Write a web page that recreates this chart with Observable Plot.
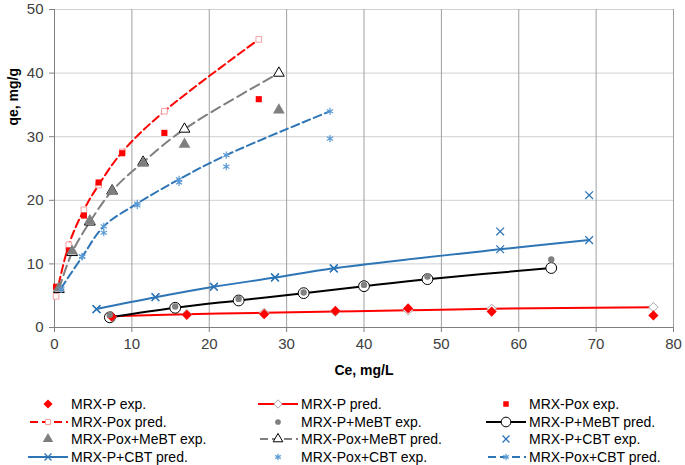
<!DOCTYPE html>
<html><head><meta charset="utf-8">
<script src="https://cdn.jsdelivr.net/npm/d3@7"></script>
<script src="https://cdn.jsdelivr.net/npm/@observablehq/plot@0.6"></script>
<style>
body{margin:0;background:#fff;font-family:"Liberation Sans",Arial,sans-serif;}
#wrap{position:relative;width:685px;height:465px;overflow:hidden;}
#chart{position:absolute;left:0;top:0;}
.lg{position:absolute;display:flex;align-items:center;font-size:14px;color:#000;white-space:nowrap;height:18px;}
.lg svg{margin-right:3px;}
</style></head><body><div id="wrap"><div id="chart"></div></div>
<script>
// ---- data ----
const xTicks = [0, 10, 20, 30, 40, 50, 60, 70, 80];
const yTicks = [0, 10, 20, 30, 40, 50];
const xLabel = "Ce, mg/L";
const yLabel = "qe, mg/g";

const mrxP_x      = [7.4, 17.1, 27.1, 36.3, 45.7, 56.5, 77.4];
const mrxP_exp    = [1.7, 2.0, 2.1, 2.6, 3.0, 2.5, 1.9];
const mrxP_pred   = [1.75, 2.1, 2.3, 2.5, 2.7, 2.95, 3.2];

const mrxPox_x    = [0.2, 1.85, 3.8, 5.7, 8.75, 14.2, 26.4];
const mrxPox_exp  = [6.4, 12.1, 17.6, 22.8, 27.4, 30.6, 35.9];
const mrxPox_pred = [4.9, 13.0, 18.5, 22.4, 27.6, 34.0, 45.3];

const pMeBT_x     = [7.15, 15.6, 23.8, 32.2, 40.0, 48.2, 64.2];
const pMeBT_exp   = [2.0, 3.3, 4.5, 5.5, 6.7, 8.0, 10.7];
const pMeBT_pred  = [1.6, 3.1, 4.25, 5.4, 6.5, 7.6, 9.35];

const poxMeBT_x    = [0.56, 2.28, 4.57, 7.45, 11.45, 16.8, 29.0];
const poxMeBT_exp  = [6.2, 12.0, 16.8, 21.4, 25.8, 28.8, 34.2];
const poxMeBT_pred = [6.0, 11.8, 16.6, 21.5, 26.0, 31.2, 40.0];

const pCBT_x      = [5.43, 13.05, 20.6, 28.5, 36.1, 57.6, 69.1];
const pCBT_exp    = [2.9, 4.8, 6.4, 7.9, 9.3, 15.1, 20.8];
const pCBT_pred   = [2.9, 4.75, 6.4, 7.85, 9.3, 12.3, 13.75];

const poxCBT_x    = [0.86, 3.57, 6.37, 10.7, 16.1, 22.2, 35.6];
const poxCBT_exp  = [6.0, 11.2, 14.9, 19.2, 22.8, 25.3, 29.7];
const poxCBT_pred = [6.2, 11.1, 15.9, 19.5, 23.3, 27.1, 34.0];

const seriesNames = [
  "MRX-P exp.", "MRX-P pred.", "MRX-Pox exp.", "MRX-Pox pred.",
  "MRX-P+MeBT exp.", "MRX-P+MeBT pred.", "MRX-Pox+MeBT exp.", "MRX-Pox+MeBT pred.",
  "MRX-P+CBT exp.", "MRX-P+CBT pred.", "MRX-Pox+CBT exp.", "MRX-Pox+CBT pred."
];
const seriesData = [
  [mrxP_x, mrxP_exp], [mrxP_x, mrxP_pred],
  [mrxPox_x, mrxPox_exp], [mrxPox_x, mrxPox_pred],
  [pMeBT_x, pMeBT_exp], [pMeBT_x, pMeBT_pred],
  [poxMeBT_x, poxMeBT_exp], [poxMeBT_x, poxMeBT_pred],
  [pCBT_x, pCBT_exp], [pCBT_x, pCBT_pred],
  [poxCBT_x, poxCBT_exp], [poxCBT_x, poxCBT_pred]
];

// ---- styles ----
const RED = "#ff0000", GRAY = "#7f7f7f", BLUE = "#2e75b6", LBLUE = "#5b9bd5";
const styles = [
  {symbol: "diamond2", fill: RED, stroke: "none", r: 4.6},
  {line: RED, dash: null, symbol: "diamond2", fill: "white", stroke: "#a6a6a6", r: 4.2},
  {symbol: "square2", fill: RED, stroke: "none", r: 3.9},
  {line: RED, dash: "8,4", symbol: "square2", fill: "white", stroke: "#f4a0a0", r: 3.6},
  {symbol: "circle", fill: "#808080", stroke: "none", r: 3.2},
  {line: "#000", dash: null, symbol: "circle", fill: "white", stroke: "#000", r: 5.4},
  {symbol: "triangle2", fill: GRAY, stroke: "none", r: 5.6},
  {line: GRAY, dash: "10,5", symbol: "triangle", fill: "white", stroke: "#000", r: 4.0},
  {symbol: "times", fill: "none", stroke: BLUE, r: 3.6, sw: 1.3},
  {line: BLUE, dash: null, symbol: "times", fill: "none", stroke: BLUE, r: 3.6, sw: 1.3},
  {symbol: "asterisk", fill: "none", stroke: LBLUE, r: 3.4, sw: 1.2},
  {line: BLUE, dash: "8,4", symbol: "asterisk", fill: "none", stroke: LBLUE, r: 3.4, sw: 1.2}
];

const rows = seriesNames.map((name, i) =>
  seriesData[i][0].map((x, j) => ({series: name, idx: i, x, y: seriesData[i][1][j]})));

const marks = [
  Plot.gridY(yTicks, {stroke: "#d0d0d0", strokeOpacity: 1, strokeWidth: 1}),
  Plot.gridX(xTicks, {stroke: "#a0a0a0", strokeOpacity: 1, strokeWidth: 1}),
  Plot.ruleX([0], {stroke: "#808080"}),
  Plot.ruleY([0], {stroke: "#808080"}),
  Plot.axisX(xTicks, {tickSize: 5, tickPadding: 6, fontSize: 15, fill: "#404040", stroke: "#808080", label: null}),
  Plot.axisY(yTicks, {tickSize: 5, tickPadding: 6, fontSize: 15, fill: "#404040", stroke: "#808080", label: null}),
  Plot.text([xLabel], {frameAnchor: "bottom", dy: 47, text: d => d, fontWeight: "bold", fontSize: 14, fill: "#000"}),
  Plot.text([yLabel], {frameAnchor: "left", dx: -41, dy: -43, rotate: -90, text: d => d, fontWeight: "bold", fontSize: 14, fill: "#000"})
];
// prediction lines
styles.forEach((s, i) => {
  if (s.line) marks.push(Plot.line(rows[i], {x: "x", y: "y", stroke: s.line, strokeWidth: 2,
    strokeDasharray: s.dash || undefined, curve: "catmull-rom"}));
});
// prediction markers
styles.forEach((s, i) => {
  if (s.line) marks.push(Plot.dot(rows[i], {x: "x", y: "y", symbol: s.symbol, r: s.r, fill: s.fill,
    stroke: s.stroke, strokeWidth: s.sw || 1}));
});
// experimental markers
styles.forEach((s, i) => {
  if (!s.line) marks.push(Plot.dot(rows[i], {x: "x", y: "y", symbol: s.symbol, r: s.r, fill: s.fill,
    stroke: s.stroke, strokeWidth: s.sw || 1}));
});

const chart = Plot.plot({
  width: 685, height: 392,
  marginLeft: 54, marginRight: 12, marginTop: 9, marginBottom: 65,
  x: {domain: [0, 80]},
  y: {domain: [0, 50]},
  style: {fontFamily: "'Liberation Sans', Arial, sans-serif", fontSize: "14px", background: "white"},
  marks
});
document.getElementById("chart").appendChild(chart);

// ---- legend ----
const symMap = {diamond2: d3.symbolDiamond2, square2: d3.symbolSquare2, circle: d3.symbolCircle,
  triangle2: d3.symbolTriangle2, triangle: d3.symbolTriangle, times: d3.symbolTimes, asterisk: d3.symbolAsterisk};
const colLeft = [28, 258, 486];
const rowTop = [395, 412.5, 430, 447.5];
const wrap = document.getElementById("wrap");
seriesNames.forEach((name, i) => {
  const s = styles[i];
  const div = document.createElement("div");
  div.className = "lg";
  div.style.left = colLeft[i % 3] + "px";
  div.style.top = rowTop[Math.floor(i / 3)] + "px";
  const svg = d3.create("svg").attr("width", 40).attr("height", 14);
  if (s.line) svg.append("line").attr("x1", 0).attr("x2", 40).attr("y1", 7).attr("y2", 7)
    .attr("stroke", s.line).attr("stroke-width", 2).attr("stroke-dasharray", s.dash ? "8,4" : null)
    .attr("stroke-dashoffset", s.dash ? -2 : null);
  const size = Math.PI * s.r * s.r * 0.8;
  svg.append("path").attr("transform", "translate(20,7)")
    .attr("d", d3.symbol(symMap[s.symbol], size)())
    .attr("fill", s.fill).attr("stroke", s.stroke).attr("stroke-width", s.sw || 1);
  div.appendChild(svg.node());
  const t = document.createElement("span");
  t.textContent = name;
  div.appendChild(t);
  wrap.appendChild(div);
});
</script></body></html>
